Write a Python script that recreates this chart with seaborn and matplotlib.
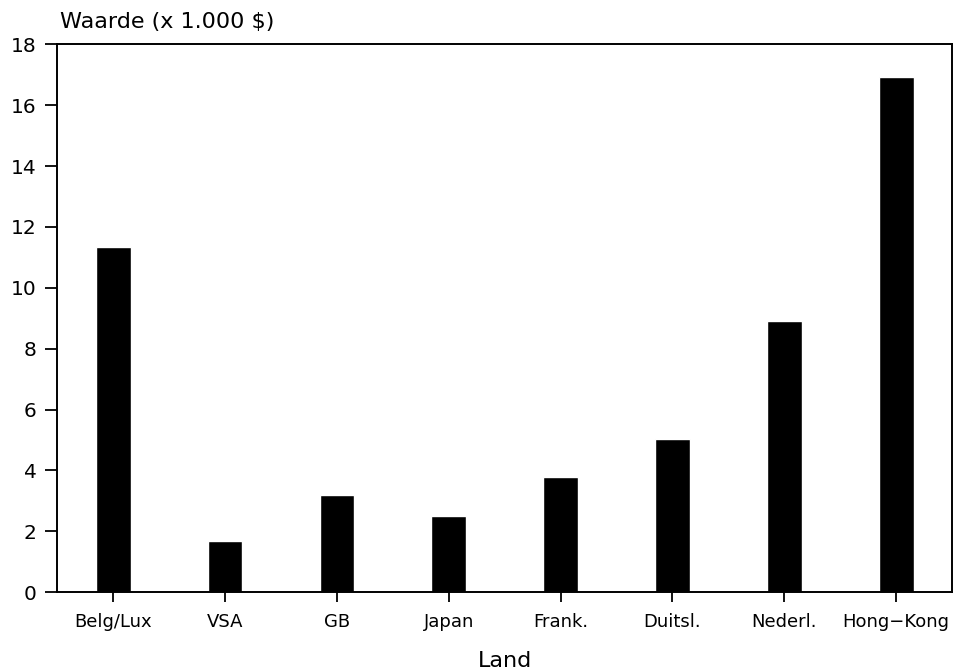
import pandas as pd
import matplotlib
matplotlib.use("Agg")
import matplotlib.pyplot as plt
import seaborn as sns

# data
landen = ['Belg/Lux', 'VSA', 'GB', 'Japan', 'Frank.', 'Duitsl.', 'Nederl.', 'Hong-Kong']
waarde = [11.33, 1.70, 3.18, 2.49, 3.80, 5.05, 8.90, 16.92]
y_ticks = [0, 2, 4, 6, 8, 10, 12, 14, 16, 18]

df = pd.DataFrame({'Land': landen, 'Waarde': waarde})

sns.set_style("ticks")
plt.rcParams['font.family'] = ['DejaVu Sans']
plt.rcParams['text.color'] = 'black'
plt.rcParams['xtick.color'] = 'black'
plt.rcParams['ytick.color'] = 'black'
plt.rcParams['axes.labelcolor'] = 'black'

fig = plt.figure(figsize=(9.54, 6.70), dpi=100)
ax = fig.add_axes([0.06, 0.116, 0.938, 0.818])

sns.barplot(x='Land', y='Waarde', data=df, color='black', width=0.31,
            saturation=1, ax=ax, errorbar=None)

ax.set_xlim(-0.5, len(landen) - 0.5)
ax.set_ylim(0, 18)
ax.set_yticks(y_ticks)
ax.set_xticks(range(len(landen)))
ax.set_xticklabels([s.replace('-', '\u2212') for s in landen])

for s in ax.spines.values():
    s.set_visible(True)
    s.set_linewidth(1.4)
    s.set_color('black')

ax.tick_params(axis='y', direction='out', length=9, width=1.3, labelsize=14.5, pad=6)
ax.tick_params(axis='x', direction='out', length=7, width=1.3, labelsize=13, pad=8)

ax.set_ylabel('')
ax.set_xlabel('Land', fontsize=16, labelpad=14)
fig.text(0.063, 0.967, 'Waarde (x 1.000 $)', fontsize=16, ha='left', va='center')

fig.savefig('out.png', dpi=100, facecolor='white')
